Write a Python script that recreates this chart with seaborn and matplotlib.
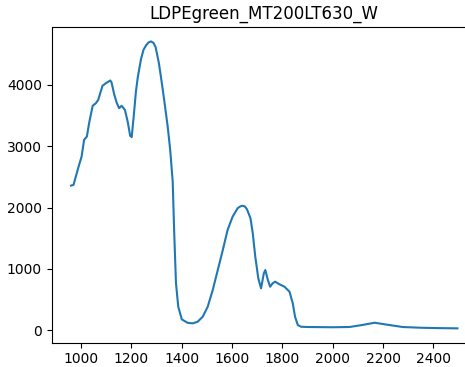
import seaborn as sns
import matplotlib.pyplot as plt
import pandas as pd

# valores
wavelength = [960, 970, 979, 992, 1002, 1012, 1023, 1032, 1046, 1059, 1068, 1085,
              1099, 1116, 1121, 1132, 1142, 1151, 1161, 1174, 1185, 1195, 1201,
              1209, 1218, 1225, 1238, 1248, 1258, 1268, 1278, 1288, 1296, 1309,
              1317, 1330, 1344, 1354, 1364, 1370, 1377, 1386, 1400, 1423, 1443,
              1463, 1483, 1503, 1523, 1543, 1563, 1582, 1602, 1622, 1630, 1638,
              1646, 1652, 1659, 1673, 1682, 1692, 1704, 1715, 1726, 1732, 1742,
              1751, 1761, 1771, 1788, 1808, 1828, 1841, 1850, 1861, 1874, 1901,
              2000, 2066, 2120, 2166, 2220, 2278, 2350, 2420, 2495]
intensity = [2358, 2370, 2505, 2696, 2832, 3105, 3159, 3382, 3660, 3704, 3758, 3987,
             4031, 4074, 4041, 3840, 3704, 3622, 3660, 3595, 3404, 3170, 3150,
             3485, 3900, 4120, 4423, 4575, 4646, 4695, 4711, 4685, 4619, 4358,
             4139, 3758, 3322, 2941, 2420, 1580, 763, 381, 175, 119, 109,
             136, 217, 381, 654, 980, 1307, 1634, 1851, 1989, 2012, 2028,
             2026, 2010, 1972, 1825, 1580, 1198, 845, 681, 926, 980, 817,
             708, 763, 790, 747, 708, 626, 436, 217, 82, 54, 50,
             46, 50, 85, 120, 85, 50, 38, 32, 28]

df = pd.DataFrame({'x': wavelength, 'y': intensity})

fig = plt.figure(figsize=(4.65, 3.67), dpi=100)
ax = fig.add_axes([0.1112, 0.0662, 0.914, 0.860])

sns.lineplot(x='x', y='y', data=df, color='#1f77b4', ax=ax)

ax.set_title('LDPEgreen_MT200LT630_W')
ax.set_xlabel('')
ax.set_ylabel('')
ax.spines['right'].set_visible(False)

plt.savefig('out.png', dpi=100)
